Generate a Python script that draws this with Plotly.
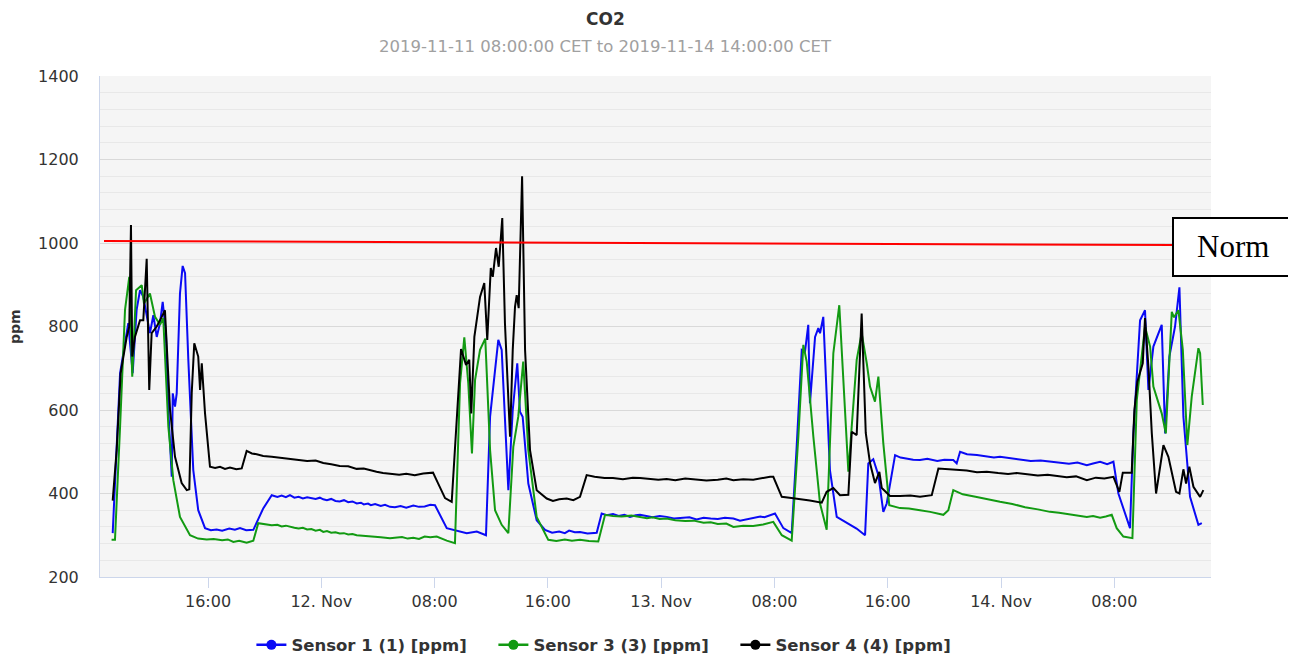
import pandas as pd
import plotly.graph_objects as go

# hours since 2019-11-11 00:00 and CO2 readings (ppm)
s1_hours = [9.27, 9.79, 10.37, 10.68, 10.96, 11.20, 11.43, 11.90, 12.14, 12.38, 12.61, 12.80, 13.03, 13.20,
            13.44, 13.51, 13.67, 13.79, 14.02, 14.21, 14.38, 14.61, 14.96, 15.31, 15.79, 16.2, 16.61, 17.0,
            17.5, 17.9, 18.26, 18.7, 19.20, 19.91, 20.50, 20.9, 21.2, 21.5, 21.79, 22.1, 22.4, 22.7, 23.0,
            23.3, 23.6, 23.9, 24.14, 24.4, 24.7, 25.0, 25.3, 25.6, 25.9, 26.2, 26.50, 26.8, 27.0, 27.3,
            27.5, 27.8, 28.2, 28.5, 28.85, 29.2, 29.6, 30.0, 30.5, 30.9, 31.3, 31.7, 32.03, 32.86, 34.27,
            34.98, 35.63, 35.92, 36.50, 36.74, 37.21, 37.52, 37.84, 38.03, 38.22, 38.62, 39.21, 39.80,
            40.3, 40.8, 41.2, 41.5, 41.9, 42.27, 42.8, 43.45, 43.80, 44.16, 44.6, 45.0, 45.4, 45.8, 46.2,
            46.51, 47.0, 47.4, 47.9, 48.39, 48.9, 49.5, 50.0, 50.5, 51.0, 51.5, 52.0, 52.5, 53.10, 53.57,
            54.0, 54.5, 55.0, 55.3, 55.69, 56.04, 56.63, 57.22, 57.57, 57.93, 58.16, 58.39, 58.51, 58.87,
            59.10, 59.22, 59.45, 59.92, 60.40, 61.11, 61.8, 62.40, 62.63, 62.98, 63.34, 63.69, 63.93,
            64.52, 64.9, 65.3, 65.8, 66.28, 66.8, 67.5, 68.0, 68.63, 68.87, 69.11, 69.6, 70.3, 70.9, 71.5,
            71.93, 72.5, 73.0, 73.5, 74.1, 74.8, 75.46, 76.1, 76.8, 77.4, 78.06, 78.5, 79.00, 79.5, 79.94,
            80.29, 81.11, 81.35, 81.82, 82.17, 82.41, 82.76, 83.35, 83.59, 83.89, 84.29, 84.60, 84.88,
            85.35, 85.94, 86.18]
s1_ppm = [305, 688, 808, 688, 840, 887, 871, 784, 827, 775, 808, 859, 784, 600,
          440, 640, 608, 640, 879, 945, 928, 720, 456, 360, 317, 312, 314, 311,
          316, 313, 317, 312, 313, 365, 396, 392, 395, 391, 396, 390, 392, 388, 391,
          389, 387, 390, 386, 384, 387, 382, 381, 384, 379, 381, 376, 378, 374, 376,
          372, 375, 370, 373, 368, 367, 370, 366, 371, 368, 369, 373, 372, 317, 305,
          309, 300, 584, 768, 744, 408, 600, 712, 596, 584, 424, 336, 313,
          306, 309, 305, 311, 307, 308, 304, 306, 352, 348, 351, 346, 349, 344, 348,
          349, 345, 343, 346, 344, 340, 341, 343, 338, 342, 340, 339, 342, 340, 335,
          338, 341, 345, 343, 348, 352, 317, 305, 512, 744, 740, 804, 616, 775,
          796, 784, 823, 456, 344, 329, 316, 300, 472, 482, 444, 356, 376,
          492, 486, 484, 481, 480, 483, 478, 481, 480, 472, 500, 494, 492, 489, 486,
          488, 485, 482, 481, 478, 479, 476, 473, 471, 474, 468, 472, 476, 470, 476,
          400, 317, 544, 815, 839, 648, 752, 804, 544, 728, 800, 894, 584,
          392, 325, 329]

s3_hours = [9.19, 9.43, 9.79, 10.14, 10.44, 10.65, 10.92, 11.32, 11.48, 11.90, 12.26, 12.61, 12.84, 13.20,
            13.55, 14.02, 14.73, 15.3, 15.91, 16.4, 17.0, 17.4, 17.79, 18.2, 18.73, 19.20, 19.55, 20.0,
            20.5, 20.9, 21.2, 21.5, 21.79, 22.1, 22.4, 22.7, 23.0, 23.3, 23.6, 23.9, 24.14, 24.4, 24.7,
            25.0, 25.3, 25.6, 25.9, 26.2, 26.50, 27.0, 27.6, 28.2, 28.85, 29.3, 29.7, 30.1, 30.5, 30.9,
            31.3, 31.7, 32.15, 32.86, 33.44, 33.80, 34.10, 34.38, 34.64, 34.86, 35.21, 35.58, 35.92,
            36.27, 36.74, 37.21, 37.56, 37.91, 38.26, 38.62, 39.21, 40.03, 40.6, 41.2, 41.7, 42.27, 42.9,
            43.56, 44.04, 44.6, 45.2, 45.9, 46.51, 47.0, 47.4, 47.9, 48.39, 49.0, 49.7, 50.3, 51.0, 51.5,
            52.0, 52.6, 53.10, 53.8, 54.5, 55.2, 55.92, 56.52, 57.22, 57.69, 58.04, 58.28, 58.75, 59.22,
            59.69, 60.16, 60.58, 61.22, 61.81, 62.16, 62.52, 62.75, 63.10, 63.34, 63.69, 64.11, 64.87,
            65.5, 66.28, 67.0, 67.93, 68.28, 68.63, 69.3, 70.2, 71.0, 71.93, 72.8, 73.7, 74.6, 75.46, 76.1,
            76.8, 77.4, 78.06, 78.5, 79.0, 79.4, 79.82, 80.17, 80.64, 81.28, 81.59, 82.17, 82.53, 82.76,
            83.35, 83.64, 84.06, 84.22, 84.53, 84.84, 85.16, 85.47, 85.94, 86.06, 86.25]
s3_ppm = [289, 289, 560, 840, 919, 680, 887, 899, 855, 879, 823, 804, 820, 560,
          432, 344, 300, 292, 290, 291, 288, 290, 284, 287, 282, 287, 329, 326,
          324, 325, 321, 323, 320, 318, 316, 318, 314, 315, 311, 313, 308, 310, 306,
          307, 304, 305, 302, 303, 300, 299, 297, 295, 293, 295, 296, 292, 294, 291,
          297, 295, 297, 287, 281, 664, 774, 664, 496, 672, 744, 771, 504,
          360, 325, 305, 512, 584, 716, 504, 344, 289, 286, 290, 287, 289, 286,
          285, 349, 346, 345, 347, 344, 341, 343, 339, 340, 336, 334, 335, 330, 331,
          327, 328, 320, 323, 322, 326, 332, 300, 287, 536, 756, 716, 536, 376,
          313, 736, 851, 452, 720, 784, 712, 656, 620, 680, 520, 372, 365,
          364, 360, 356, 349, 360, 408, 398, 392, 386, 380, 375, 367, 362, 356, 354,
          350, 348, 344, 346, 342, 345, 349, 317, 297, 293, 624, 800, 752, 656,
          592, 544, 835, 822, 839, 744, 516, 632, 748, 736, 612]

s4_hours = [9.27, 9.55, 9.83, 10.26, 10.44, 10.56, 10.65, 10.84, 11.20, 11.43, 11.67, 11.85, 12.02, 12.38,
            12.73, 12.96, 13.32, 13.67, 14.14, 14.50, 14.68, 14.85, 15.03, 15.31, 15.44, 15.56, 15.79,
            16.14, 16.5, 16.85, 17.2, 17.55, 18.0, 18.38, 18.73, 19.1, 19.44, 19.9, 20.5, 21.1, 21.79,
            22.4, 23.0, 23.6, 24.14, 24.7, 25.3, 25.9, 26.50, 27.0, 27.5, 27.9, 28.36, 29.0, 29.5, 30.0,
            30.6, 31.2, 31.89, 32.24, 32.74, 33.21, 33.58, 33.87, 34.22, 34.45, 34.59, 34.81, 35.21,
            35.51, 35.72, 35.97, 36.11, 36.34, 36.53, 36.78, 36.97, 37.33, 37.52, 37.68, 37.80, 37.94,
            38.18, 38.39, 38.74, 39.21, 39.92, 40.36, 40.8, 41.33, 41.8, 42.27, 42.74, 43.3, 44.0, 44.60,
            45.3, 46.0, 46.51, 47.2, 47.8, 48.39, 49.0, 49.7, 50.5, 51.2, 52.0, 52.6, 53.10, 53.8, 54.5,
            55.1, 55.69, 55.92, 56.52, 57.2, 57.81, 58.5, 59.34, 59.69, 60.16, 60.63, 61.22, 61.46,
            61.81, 62.16, 62.45, 62.75, 63.10, 63.41, 63.58, 64.16, 64.87, 65.6, 66.28, 67.11, 67.58,
            68.3, 69.0, 69.58, 70.3, 71.0, 71.8, 72.5, 73.11, 73.8, 74.6, 75.3, 76.0, 76.64, 77.3, 78.06,
            78.7, 79.3, 79.94, 80.36, 80.60, 81.23, 81.42, 81.63, 82.01, 82.17, 82.41, 82.65, 82.95,
            83.47, 83.82, 84.36, 84.60, 84.88, 85.07, 85.30, 85.59, 86.06, 86.29]
s4_ppm = [383, 504, 688, 775, 800, 1043, 728, 775, 815, 815, 962, 648, 784, 800,
          823, 839, 600, 488, 425, 408, 410, 640, 760, 728, 648, 712, 592,
          464, 461, 464, 459, 462, 458, 460, 502, 496, 494, 490, 488, 486, 483,
          481, 478, 479, 473, 470, 466, 465, 459, 460, 455, 452, 449, 446, 445, 447,
          444, 448, 450, 425, 389, 380, 584, 746, 708, 720, 592, 775, 871,
          904, 768, 940, 919, 988, 943, 1060, 808, 536, 744, 847, 875, 844,
          1160, 744, 504, 408, 388, 382, 386, 388, 384, 392, 444, 440, 437, 437,
          434, 438, 437, 435, 433, 435, 432, 436, 434, 431, 433, 436, 432, 434, 433,
          437, 440, 440, 392, 389, 387, 383, 378, 404, 413, 396, 397, 548,
          540, 831, 545, 473, 425, 452, 413, 394, 394, 395, 392, 396, 460,
          458, 455, 455, 451, 452, 449, 447, 449, 447, 443, 445, 441, 439, 441, 432,
          438, 436, 440, 404, 450, 450, 600, 668, 712, 820, 704, 544, 400,
          516, 488, 404, 400, 458, 424, 464, 416, 392, 408]

names = ["Sensor 1 (1) [ppm]", "Sensor 3 (3) [ppm]", "Sensor 4 (4) [ppm]"]
colors = ["#0a0af5", "#129a12", "#000000"]

tick_hours = [16, 24, 32, 40, 48, 56, 64, 72, 80]
tick_text = ["16:00", "12. Nov", "08:00", "16:00", "13. Nov", "08:00", "16:00", "14. Nov", "08:00"]

norm_level = [1005, 995]

base = pd.Timestamp("2019-11-11 00:00")
def to_time(hours):
    return base + pd.to_timedelta(pd.Series(hours), unit="h")

fig = go.Figure()
series = [(s1_hours, s1_ppm), (s3_hours, s3_ppm), (s4_hours, s4_ppm)]
for (hrs, vals), name, col in zip(series, names, colors):
    fig.add_trace(go.Scatter(x=to_time(hrs), y=vals, mode="lines", name=name,
                             line=dict(color=col, width=2), showlegend=False))
    # legend entry with the highcharts-like dot on the line
    fig.add_trace(go.Scatter(x=[None], y=[None], mode="lines+markers", name=name,
                             line=dict(color=col, width=2.5), marker=dict(size=10, color=col)))

# page body has an 8px margin, so the figure is 8px smaller and shifted
fig.update_layout(
    width=1288, height=647,
    margin=dict(l=92, r=85, t=68, b=78, autoexpand=False),
    plot_bgcolor="#f5f5f5", paper_bgcolor="white",
    font=dict(family="DejaVu Sans", size=12, color="#333333"),
    legend=dict(orientation="h", x=0.463, xanchor="center", y=-0.136, yanchor="middle",
                font=dict(size=16.5, color="#333333", family="DejaVu Sans", weight="bold"),
                itemwidth=30, tracegroupgap=0, entrywidth=197),
)

fig.update_xaxes(
    range=[base + pd.Timedelta(hours=8.373), base + pd.Timedelta(hours=86.83)],
    tickvals=list(to_time(tick_hours)), ticktext=tick_text,
    showgrid=False, zeroline=False, showline=True, linecolor="#ccd6eb", linewidth=1,
    ticks="outside", ticklen=10, tickcolor="#ccd6eb",
    tickfont=dict(size=16, color="#333333"),
)
fig.update_yaxes(
    range=[200, 1400], dtick=200, tick0=200,
    showgrid=True, gridcolor="#d9d9d9", gridwidth=1,
    minor=dict(dtick=40, showgrid=True, gridcolor="#e8e8e8", gridwidth=1),
    zeroline=False, showline=True, linecolor="#ccd6eb", linewidth=1,
    ticks="outside", ticklen=17, tickcolor="rgba(0,0,0,0)",
    tickfont=dict(size=16, color="#333333"),
)

# titles
fig.add_annotation(text="<b>CO2</b>", xref="paper", yref="paper", x=0.455, y=1.114,
                   xanchor="center", yanchor="middle", showarrow=False, font=dict(size=17, color="#333333"))
fig.add_annotation(text="2019-11-11 08:00:00 CET to 2019-11-14 14:00:00 CET", xref="paper", yref="paper",
                   x=0.455, y=1.058, xanchor="center", yanchor="middle", showarrow=False,
                   font=dict(size=16.5, color="#a0a0a0"))
fig.add_annotation(text="<b>ppm</b>", xref="paper", yref="paper", x=-0.077, y=0.5, textangle=-90,
                   xanchor="center", yanchor="middle", showarrow=False, font=dict(size=14, color="#333333"))

# hand drawn norm line and its label box
fig.add_shape(type="line", xref="paper", yref="y", x0=0.0036, x1=0.9658, y0=norm_level[0], y1=norm_level[1],
              line=dict(color="#ff0000", width=2))
fig.add_shape(type="rect", xref="paper", yref="paper", x0=0.9658, x1=1.0739, y0=0.6008, y1=0.7166,
              line=dict(color="black", width=2), fillcolor="white", layer="above")
fig.add_annotation(text="Norm", xref="paper", yref="paper", x=1.0198, y=0.6587, xanchor="center",
                   yanchor="middle", showarrow=False,
                   font=dict(family="Liberation Serif", size=31, color="black"))

fig.write_html("out.html")
